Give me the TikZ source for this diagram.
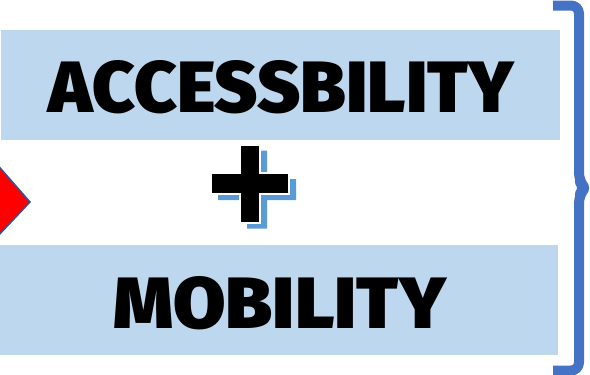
\documentclass[tikz,border=0pt]{standalone}
\usepackage{fontspec}
\newfontfamily\heavy{Fira Sans Black}
\definecolor{boxblue}{HTML}{BDD7EE}
\definecolor{bracec}{HTML}{4472C4}
\definecolor{shadowc}{HTML}{5B9BD5}
\definecolor{edgec}{HTML}{2F5597}
\begin{document}
\begin{tikzpicture}[x=1pt,y=-1pt,
  band/.style={fill=boxblue,draw=none,inner sep=0pt,minimum width=#1,minimum height=110pt},
  word/.style={inner sep=0pt,text=black}]
\useasboundingbox (0,0) rectangle (590,375);
% red arrow tip
\filldraw[fill=red,draw=edgec,line width=1.5pt,line join=miter] (-20,145) -- (30,202) -- (-20,255) -- cycle;
% bands
\node[band=559pt] (top) at (280.5,85) {};
\node[band=558pt] (bot) at (279,300) {};
\node[word] (acc) at (281.5,87) {\resizebox{465pt}{52pt}{\heavy ACCESSBILITY}};
\node[word] (mob) at (280,303) {\resizebox{332pt}{52pt}{\heavy MOBILITY}};
% plus sign
\coordinate (pc) at (250,183.5);
\begin{scope}[shift={(257,189.5)}]
\fill[shadowc] (-10,-39) -- (10,-39) -- (10,-10.5) -- (39,-10.5) -- (39,10.5) -- (10,10.5) -- (10,39) -- (-10,39) -- (-10,10.5) -- (-39,10.5) -- (-39,-10.5) -- (-10,-10.5) -- cycle;
\end{scope}
\begin{scope}[shift={(pc)}]
\filldraw[fill=black,draw=white,line width=2pt] (-10,-39) -- (10,-39) -- (10,-10.5) -- (39,-10.5) -- (39,10.5) -- (10,10.5) -- (10,39) -- (-10,39) -- (-10,10.5) -- (-39,10.5) -- (-39,-10.5) -- (-10,-10.5) -- cycle;
\end{scope}
% brace
\coordinate (bt) at (553,5.5);
\coordinate (bb) at (553,370.5);
\draw[bracec,line width=10pt,line join=round,rounded corners=8pt] (bt) -- (579,5.5) -- (579,181) -- (585,188) -- (579,195) -- (579,370.5) -- (bb);
\end{tikzpicture}
\end{document}
